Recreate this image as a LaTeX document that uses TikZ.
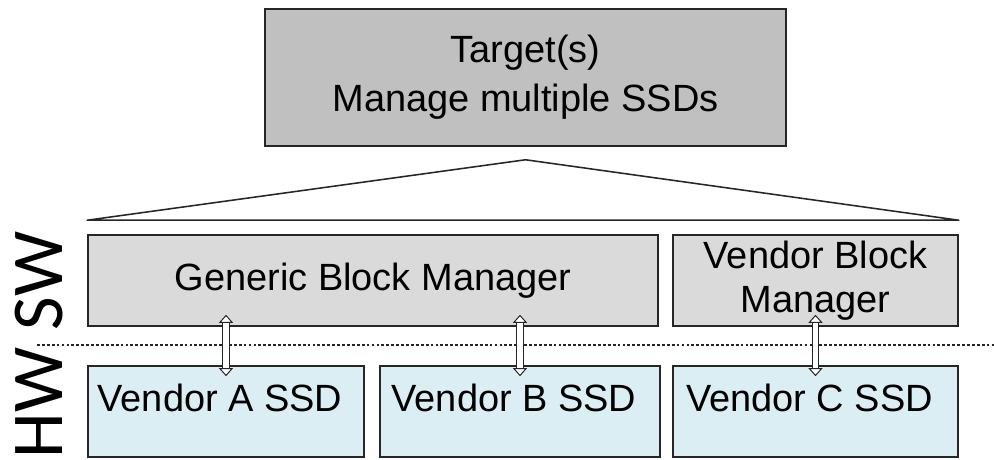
\documentclass[tikz,border=0pt]{standalone}
\usepackage{fontspec}
\setmainfont{Liberation Sans}
\newfontfamily\layerfont{Carlito}
\usetikzlibrary{arrows.meta}
\definecolor{tgtgray}{HTML}{C0C0C0}
\definecolor{mgrgray}{HTML}{DADADA}
\definecolor{ssdblue}{HTML}{DAEEF3}
\definecolor{edgegray}{HTML}{262626}

\begin{document}
\begin{tikzpicture}[x=1cm,y=1cm,
  box/.style={draw=edgegray,line width=1.1pt,inner sep=0pt,align=center,
    font=\fontsize{27}{31}\selectfont},
  tgtbox/.style={box,fill=tgtgray,minimum width=13.025cm,minimum height=3.425cm},
  mgrbox/.style={box,fill=mgrgray,minimum height=2.275cm},
  ssdbox/.style={box,fill=ssdblue,minimum height=2.275cm,
    text height=0.72em,text depth=0.72em},
  layer/.style={rotate=90,anchor=base,inner sep=0pt,
    font=\layerfont\fontsize{52}{52}\selectfont},
  link/.style={draw=edgegray,line width=0.7pt,double=white,double distance=3.6pt,
    >={Triangle[length=5.7pt,width=10pt,fill=white,line width=0.7pt]},<->}]
  \useasboundingbox (0,0) rectangle (24.85,11.5);

  \node[tgtbox] (target) at (13.1375,9.5625) {Target(s)\\[4pt]Manage multiple SSDs};
  \node[mgrbox,minimum width=14.25cm] (gbm) at (9.325,4.4875) {Generic Block Manager};
  \node[mgrbox,minimum width=7.125cm] (vbm) at (20.3875,4.4875) {Vendor Block\\Manager};
  \node[ssdbox,minimum width=6.9cm] (ssda) at (5.65,1.2125) {Vendor A SSD\hspace{0.3cm}};
  \node[ssdbox,minimum width=7.0cm] (ssdb) at (13.0,1.2125) {Vendor B SSD\hspace{0.3cm}};
  \node[ssdbox,minimum width=7.125cm] (ssdc) at (20.3875,1.2125) {Vendor C SSD\hspace{0.3cm}};

  \coordinate (apex) at ([yshift=-0.325cm]target.south);
  \coordinate (baseL) at ([yshift=0.35cm]gbm.north west);
  \coordinate (baseR) at ([yshift=0.35cm]vbm.north east);
  \draw[edgegray,line width=1.1pt,line join=round] (baseL) -- (apex) -- (baseR) -- cycle;

  \coordinate (cutL) at (0.925,2.875);
  \coordinate (cutR) at (24.85,2.875);
  \draw[edgegray,line width=0.8pt,dash pattern=on 2pt off 1.5pt] (cutL) -- (cutR);

  \draw[link] ([yshift=-0.275cm]ssda.north) -- ([yshift=0.3cm]ssda.north |- gbm.south);
  \draw[link] ([yshift=-0.275cm]ssdb.north) -- ([yshift=0.3cm]ssdb.north |- gbm.south);
  \draw[link] ([yshift=-0.275cm]ssdc.north) -- ([yshift=0.3cm]ssdc.north |- vbm.south);

  \node[layer] (swlbl) at (1.55,4.475) {SW};
  \node[layer] (hwlbl) at (1.55,1.42) {HW};
\end{tikzpicture}
\end{document}
